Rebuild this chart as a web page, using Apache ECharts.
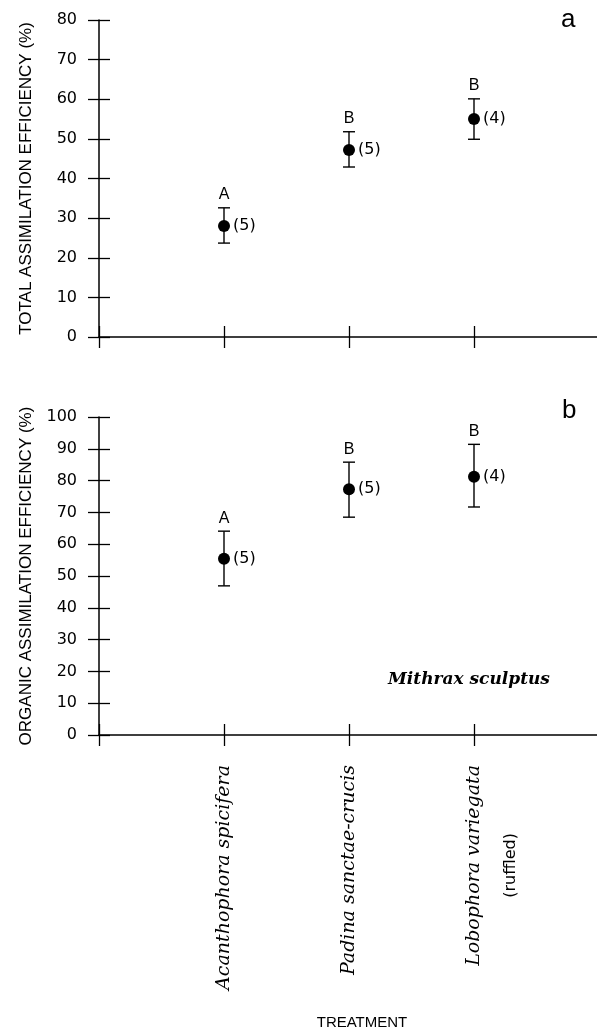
<!DOCTYPE html>
<html>
<head>
<meta charset="utf-8">
<script src="https://cdn.jsdelivr.net/npm/echarts@6/dist/echarts.min.js"></script>
<style>
html,body{margin:0;padding:0;background:#fff;}
#chart{width:597px;height:1029px;}
</style>
</head>
<body>
<div id="chart"></div>
<script>
// ---- data ----
var categories = ['Acanthophora spicifera', 'Padina sanctae-crucis', 'Lobophora variegata'];
var categoryNotes = ['', '', '(ruffled)'];
var nCounts = [5, 5, 4];

var totalMean = [28.0, 47.2, 55.0];
var totalLow  = [23.7, 42.9, 49.9];
var totalHigh = [32.6, 51.8, 60.1];
var totalLetters = ['A', 'B', 'B'];

var organicMean = [55.4, 77.3, 81.2];
var organicLow  = [46.9, 68.5, 71.7];
var organicHigh = [64.1, 85.8, 91.4];
var organicLetters = ['A', 'B', 'B'];

var totalTicks = [0, 80, 10];    // min, max, interval
var organicTicks = [0, 100, 10]; // min, max, interval

// ---- build ----
var axisCats = [''].concat(categories).concat(['']);
var SANS = 'Liberation Sans';
var black = '#000';

function catData(withLabels) {
  return axisCats.map(function (c, i) {
    var note = categoryNotes[i - 1];
    if (withLabels && note) {
      return { value: c, textStyle: { padding: [37, 0, 0, 0] } };
    }
    return c;
  });
}

function xAxisPair(gridIndex, withLabels) {
  var main = {
    type: 'category', gridIndex: gridIndex, data: catData(withLabels),
    boundaryGap: false, position: 'bottom',
    axisLine: { onZero: false, lineStyle: { color: black, width: 1.5 } },
    axisTick: { show: true, inside: false, length: 11, interval: 0, lineStyle: { color: black, width: 1.3 } },
    axisLabel: { show: false },
    splitLine: { show: false }
  };
  if (withLabels) {
    main.axisLabel = {
      show: true, interval: 0, rotate: 90, margin: 30, color: black,
      fontFamily: 'DejaVu Serif', fontStyle: 'italic', fontSize: 19,
      formatter: function (v) {
        var i = categories.indexOf(v);
        if (i >= 0 && categoryNotes[i]) {
          return '{it|' + v + '}\n{rf|' + categoryNotes[i] + '}';
        }
        return v ? '{it|' + v + '}' : '';
      },
      rich: {
        it: { fontFamily: 'DejaVu Serif', fontStyle: 'italic', fontSize: 19, lineHeight: 37, color: black },
        rf: { fontFamily: 'DejaVu Sans', fontStyle: 'normal', fontSize: 16, lineHeight: 37, align: 'center', color: black }
      }
    };
    main.name = 'TREATMENT';
    main.nameLocation = 'middle';
    main.nameGap = 280;
    main.nameTextStyle = { fontFamily: SANS, fontSize: 15, color: black, padding: [0, 0, 0, 26] };
  }
  var inner = {
    type: 'category', gridIndex: gridIndex, data: axisCats,
    boundaryGap: false, position: 'bottom',
    axisLine: { show: false, onZero: false },
    axisTick: { show: true, inside: true, length: 11, interval: 0, lineStyle: { color: black, width: 1.3 } },
    axisLabel: { show: false }, splitLine: { show: false }
  };
  return [main, inner];
}

function yAxisPair(gridIndex, ticks, title, gap) {
  var main = {
    type: 'value', gridIndex: gridIndex, position: 'left',
    min: ticks[0], max: ticks[1], interval: ticks[2],
    name: title, nameLocation: 'middle', nameGap: gap,
    nameTextStyle: { fontFamily: SANS, fontSize: 17, color: black },
    axisLine: { show: true, onZero: false, lineStyle: { color: black, width: 1.5 } },
    axisTick: { show: true, inside: false, length: 11, lineStyle: { color: black, width: 1.3 } },
    axisLabel: { show: true, margin: 22, color: black, fontFamily: 'DejaVu Sans', fontSize: 16 },
    splitLine: { show: false }
  };
  var inner = {
    type: 'value', gridIndex: gridIndex, position: 'left',
    min: ticks[0], max: ticks[1], interval: ticks[2],
    axisLine: { show: false, onZero: false },
    axisTick: { show: true, inside: true, length: 11, lineStyle: { color: black, width: 1.3 } },
    axisLabel: { show: false }, splitLine: { show: false }
  };
  return [main, inner];
}

function errorSeries(axisIdx, low, high, letters) {
  return {
    type: 'custom', xAxisIndex: axisIdx, yAxisIndex: axisIdx,
    data: low.map(function (l, i) { return [i + 1, l, high[i]]; }),
    encode: { x: 0, y: [1, 2] },
    z: 3,
    renderItem: function (params, api) {
      var x = api.value(0);
      var top = api.coord([x, api.value(2)]);
      var bot = api.coord([x, api.value(1)]);
      var cw = 6;
      var ls = { stroke: black, lineWidth: 1.4 };
      return {
        type: 'group',
        children: [
          { type: 'line', shape: { x1: top[0], y1: top[1], x2: bot[0], y2: bot[1] }, style: ls },
          { type: 'line', shape: { x1: top[0] - cw, y1: top[1], x2: top[0] + cw, y2: top[1] }, style: ls },
          { type: 'line', shape: { x1: bot[0] - cw, y1: bot[1], x2: bot[0] + cw, y2: bot[1] }, style: ls },
          { type: 'text', x: top[0], y: top[1] - 13,
            style: { text: letters[params.dataIndex], fill: black, font: '16px "Liberation Sans"',
                     textAlign: 'center', textVerticalAlign: 'middle' } }
        ]
      };
    }
  };
}

function meanSeries(axisIdx, means) {
  return {
    type: 'scatter', xAxisIndex: axisIdx, yAxisIndex: axisIdx,
    data: means.map(function (m, i) { return [i + 1, m]; }),
    symbol: 'circle', symbolSize: 12, z: 4,
    itemStyle: { color: black, opacity: 1 },
    label: {
      show: true, position: 'right', distance: 3, color: black,
      fontFamily: 'DejaVu Sans', fontSize: 16,
      formatter: function (p) { return '(' + nCounts[p.dataIndex] + ')'; }
    },
    emphasis: { disabled: true }
  };
}

var xs = xAxisPair(0, false).concat(xAxisPair(1, true));
var ys = yAxisPair(0, totalTicks, 'TOTAL ASSIMILATION EFFICIENCY (%)', 64)
  .concat(yAxisPair(1, organicTicks, 'ORGANIC ASSIMILATION EFFICIENCY (%)', 64));

var option = {
  backgroundColor: '#fff',
  animation: false,
  grid: [
    { left: 99, top: 20, width: 500, height: 317, outerBoundsMode: 'none' },
    { left: 99, top: 417, width: 500, height: 318, outerBoundsMode: 'none' }
  ],
  xAxis: xs,
  yAxis: ys,
  series: [
    errorSeries(0, totalLow, totalHigh, totalLetters),
    meanSeries(0, totalMean),
    errorSeries(2, organicLow, organicHigh, organicLetters),
    meanSeries(2, organicMean)
  ],
  graphic: [
    { type: 'text', left: 561, top: 7, style: { text: 'a', fill: black, font: '26px "Liberation Sans"' } },
    { type: 'text', left: 562, top: 398, style: { text: 'b', fill: black, font: '26px "Liberation Sans"' } },
    { type: 'text', left: 388, top: 671, style: { text: 'Mithrax sculptus', fill: black, font: 'italic bold 17px "DejaVu Serif"' } }
  ]
};

var chart = echarts.init(document.getElementById('chart'), null, { renderer: 'canvas' });
chart.setOption(option);
</script>
</body>
</html>
